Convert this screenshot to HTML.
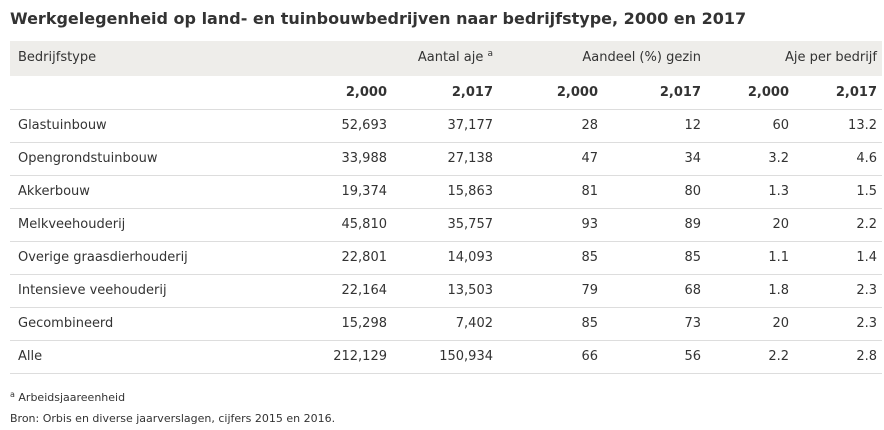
<!DOCTYPE html>
<html><head><meta charset="utf-8"><style>
body{margin:0;width:884px;height:430px;background:#fff;position:relative;overflow:hidden;font-family:"DejaVu Sans","Liberation Sans",sans-serif;color:#333;}
.t{position:absolute;white-space:nowrap;font-size:13px;line-height:16px;}
.r{text-align:right;}
.b{font-weight:bold;}
.hl{position:absolute;left:10px;width:872px;height:1px;background:#ddd;}
.s{font-size:9px;position:relative;top:-5px;line-height:0;}
</style></head><body>
<div class="t b" style="left:10px;top:8px;font-size:16px;line-height:22px;color:#333">Werkgelegenheid op land- en tuinbouwbedrijven naar bedrijfstype, 2000 en 2017</div>
<div style="position:absolute;left:10px;top:41px;width:872px;height:35px;background:#eeedea"></div>
<div class="t" style="left:18px;top:50px">Bedrijfstype</div>
<div class="t r" style="right:391px;top:50px">Aantal aje <span class="s">a</span></div>
<div class="t r" style="right:183px;top:50px">Aandeel (%) gezin</div>
<div class="t r" style="right:7px;top:50px">Aje per bedrijf</div>
<div id="rows"></div>
<script>
var rs=[["","2,000","2,017","2,000","2,017","2,000","2,017"],
["Glastuinbouw","52,693","37,177","28","12","60","13.2"],
["Opengrondstuinbouw","33,988","27,138","47","34","3.2","4.6"],
["Akkerbouw","19,374","15,863","81","80","1.3","1.5"],
["Melkveehouderij","45,810","35,757","93","89","20","2.2"],
["Overige graasdierhouderij","22,801","14,093","85","85","1.1","1.4"],
["Intensieve veehouderij","22,164","13,503","79","68","1.8","2.3"],
["Gecombineerd","15,298","7,402","85","73","20","2.3"],
["Alle","212,129","150,934","66","56","2.2","2.8"]];
var rights=[387,493,598,701,789,877],h="";
rs.forEach(function(r,i){var y=76+i*33;
h+='<div class="t" style="left:18px;top:'+(y+9)+'px">'+r[0]+'</div>';
for(var j=1;j<7;j++)h+='<div class="t r'+(i==0?' b':'')+'" style="right:'+(884-rights[j-1])+'px;top:'+(y+9)+'px">'+r[j]+'</div>';
h+='<div class="hl" style="top:'+(y+33)+'px"></div>';});
document.getElementById('rows').innerHTML=h;
</script>
<div class="t" style="left:10px;top:390px;font-size:11px"><span class="s" style="font-size:8px;top:-4px">a</span> Arbeidsjaareenheid</div>
<div class="t" style="left:10px;top:411px;font-size:11px">Bron: Orbis en diverse jaarverslagen, cijfers 2015 en 2016.</div>
</body></html>
